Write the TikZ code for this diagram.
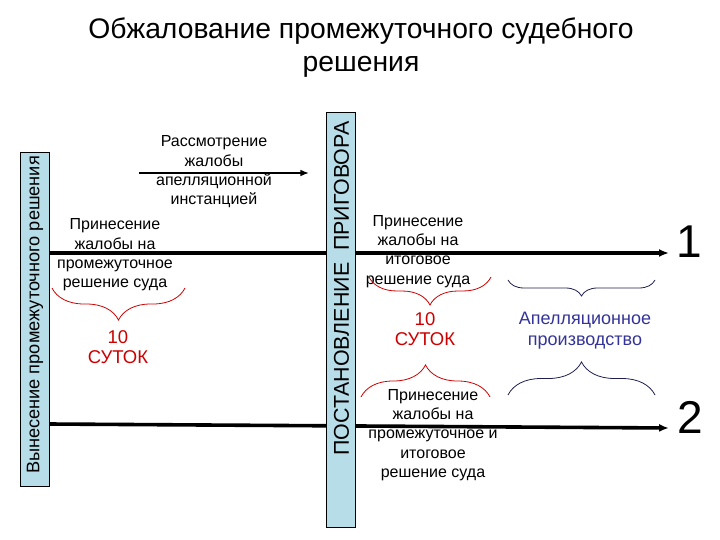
\documentclass[tikz,border=0pt]{standalone}
\usepackage{fontspec}
\setmainfont{Liberation Sans}
\usetikzlibrary{arrows.meta, decorations.pathreplacing}
\definecolor{boxfill}{HTML}{B7DDE8}
\definecolor{termred}{HTML}{CC0000}
\definecolor{appblue}{HTML}{333399}
\definecolor{darkbrace}{HTML}{1F1F4F}

\begin{document}
\begin{tikzpicture}[x=1pt, y=-1pt,
    every node/.style={font=\fontsize{16}{19.3}\selectfont},
    vbox/.style={rectangle, draw, fill=boxfill, rotate=90, inner sep=0pt},
    vlabel/.style={rotate=90, inner sep=0pt},
    txt/.style={align=center, inner sep=0pt},
    redtxt/.style={txt, text=termred, font=\fontsize{18.5}{20.5}\selectfont},
    bluetxt/.style={txt, text=appblue, font=\fontsize{18}{21}\selectfont},
    rbrace/.style={draw=termred, line width=0.8pt, decorate,
                   decoration={brace, amplitude=#1}},
    kbrace/.style={draw=darkbrace, line width=0.8pt, decorate,
                   decoration={brace, amplitude=#1}},
    arr/.style={-{Latex[length=3.5mm, width=2.8mm]}, line width=3.6pt},
    num/.style={font=\fontsize{46}{46}\selectfont, inner sep=0pt}
]
    \useasboundingbox (0,0) rectangle (720,540);

    % title
    \node[txt, font=\fontsize{28.3}{33}\selectfont] (title) at (361,48)
        {Обжалование промежуточного судебного\\решения};

    % time lines
    \coordinate (s1) at (49,253);
    \coordinate (e1) at (669,253);
    \coordinate (s2) at (49,424);
    \coordinate (e2) at (669,428);
    \draw[arr] (s1) -- (e1);
    \draw[arr] (s2) -- (e2);

    % vertical bars
    \node[vbox, minimum width=334, minimum height=29] (lbar) at (34.5,319) {};
    \node[vlabel, font=\fontsize{18.2}{20}\selectfont] (llabel) at (35,315)
        {Вынесение промежуточного решения};
    \node[vbox, minimum width=415, minimum height=29] (mbar) at (341,319.5) {};
    \node[vlabel, font=\fontsize{21.4}{22}\selectfont] (mlabel) at (341.5,288.5)
        {ПОСТАНОВЛЕНИЕ\ \ ПРИГОВОРА};

    % upper arrow
    \coordinate (ua) at (139,173);
    \coordinate (ub) at (309,173);
    \draw[-{Latex[length=3mm, width=2.4mm]}, line width=2.6pt] (ua) -- (ub);
    \node[txt] (review) at (214,172)
        {Рассмотрение\\жалобы\\апелляционной\\инстанцией};

    % left part
    \node[txt] (appl1) at (115,255)
        {Принесение\\жалобы на\\промежуточное\\решение суда};
    \draw[rbrace=32] (185,288) -- (52,288);
    \node[redtxt] (term1) at (118,347) {10\\СУТОК};

    % right part, line 1
    \node[txt] (appl2) at (418,251.5)
        {Принесение\\жалобы на\\итоговое\\решение суда};
    \draw[rbrace=28] (491,277) -- (369,277);
    \node[redtxt] (term2) at (425,329) {10\\СУТОК};
    \draw[kbrace=16] (655,280) -- (508,280);
    \node[bluetxt] (appeal) at (585,331) {Апелляционное\\производство};

    % right part, line 2
    \draw[rbrace=32] (361,397) -- (490,397);
    \draw[kbrace=33] (508,395) -- (655,395);
    \node[txt] (appl3) at (433,435)
        {Принесение\\жалобы на\\промежуточное и\\итоговое\\решение суда};

    % numbers
    \node[num] (n1) at (689,242) {1};
    \node[num] (n2) at (690,417) {2};
\end{tikzpicture}
\end{document}
